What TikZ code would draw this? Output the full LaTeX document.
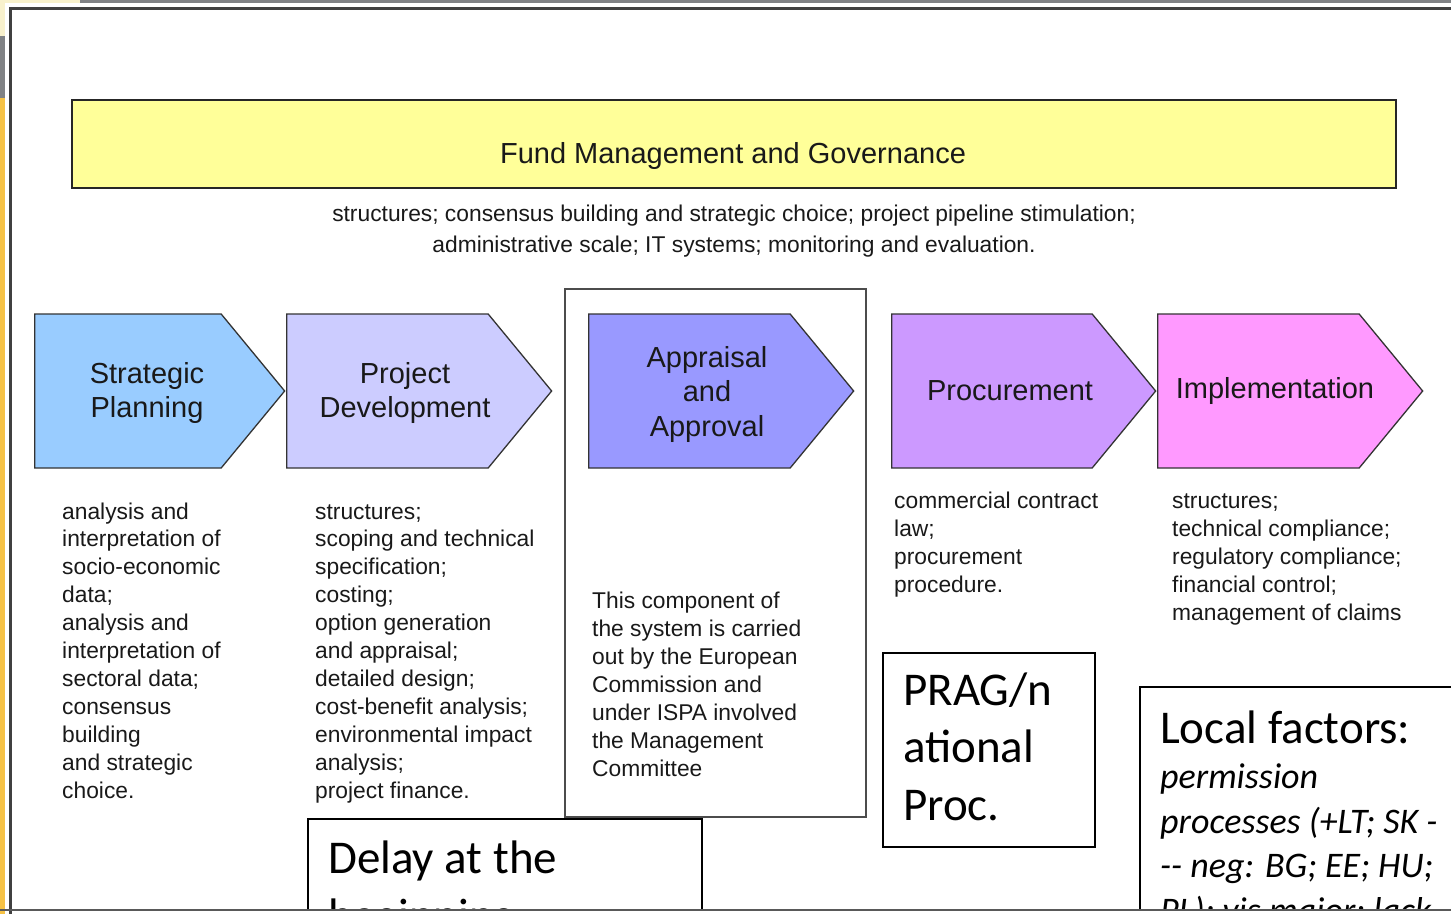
\documentclass[tikz,border=0pt]{standalone}
\usepackage{fontspec}
\setmainfont{Liberation Sans}
\newfontfamily\calibri{Carlito}
\usetikzlibrary{shapes.symbols}
\definecolor{fundyellow}{HTML}{FFFF99}
\definecolor{planblue}{HTML}{99CCFF}
\definecolor{devlilac}{HTML}{CCCCFF}
\definecolor{apprblue}{HTML}{9999FF}
\definecolor{procviolet}{HTML}{CC99FF}
\definecolor{implpink}{HTML}{FF99FF}
\definecolor{slidegray}{HTML}{808285}
\definecolor{slideorange}{HTML}{F6C245}
\definecolor{slidecream}{HTML}{F8F1CC}
\tikzset{
  stage/.style = {signal, signal to=east, signal pointer angle=101,
    draw=black!80, line width=1.3pt, minimum height=154pt,
    minimum width=265pt, inner sep=0pt, anchor=west},% arrow block
  stagetxt/.style = {align=center, inner sep=0pt, text=black!90,
    font=\fontsize{29}{34.5}\selectfont},
  coltxt/.style = {align=left, anchor=base west, inner sep=0pt,
    text=black!90, font=\fontsize{22.8}{27.9}\selectfont},% task lists, placed by last line
  note/.style = {draw=black, line width=1.8pt, fill=white,
    anchor=north west, inner sep=0pt},% callout box
  notetxt/.style = {align=left, anchor=base west, inner sep=0pt,
    font=\calibri\fontsize{47}{57.5}\selectfont}
}

\begin{document}
\begin{tikzpicture}[x={(1pt,0)}, y={(0,-1pt)}]
\useasboundingbox (0,0) rectangle (1451,914);
% window edge
\fill[slidecream] (0,0) rectangle (80,3);
\fill[slidegray] (80,0) rectangle (1451,2.5);
\fill[slidecream] (0,0) rectangle (5,36);
\fill[slidegray] (0,36) rectangle (5,98);
\fill[slideorange] (0,98) rectangle (5,914);

% governance bar
\node[draw=black!85, line width=1.6pt, fill=fundyellow, minimum width=1324pt,
  minimum height=88pt, inner sep=0pt, anchor=north west] (fund) at (71,99) {};
\node[anchor=base, inner sep=0pt, text=black!90, font=\fontsize{29}{34.5}\selectfont]
  (fundtxt) at (733,163) {Fund Management and Governance};
\node[anchor=base, inner sep=0pt, align=center, text=black!90,
  font=\fontsize{22.8}{31}\selectfont] (fundsub) at (734,252)
  {structures; consensus building and strategic choice; project pipeline stimulation;\\
   administrative scale; IT systems; monitoring and evaluation.};

% frame round the approval stage
\node[draw=black!70, line width=1.5pt, minimum width=301pt, minimum height=528pt,
  inner sep=0pt, anchor=north west] (apprframe) at (564,288) {};

% stages
\node[stage, fill=planblue, minimum width=250pt] (plan) at (34,391) {};
\node[stage, fill=devlilac] (dev) at (286,391) {};
\node[stage, fill=apprblue] (appr) at (588,391) {};
\node[stage, fill=procviolet, minimum width=264pt] (proc) at (891,391) {};
\node[stage, fill=implpink] (impl) at (1157,391) {};

\node[stagetxt] (plantxt) at (147,393) {Strategic\\Planning};
\node[stagetxt] (devtxt) at (405,393) {Project\\Development};
\node[stagetxt] (apprtxt) at (707,394) {Appraisal\\and\\Approval};
\node[stagetxt] (proctxt) at (1010,391) {Procurement};
\node[stagetxt] (impltxt) at (1275,391) {Implementation};

% what each stage covers
\node[coltxt] (plancol) at (62,798) {analysis and\\interpretation of\\socio-economic\\data;\\analysis and\\interpretation of\\sectoral data;\\consensus\\building\\and strategic\\choice.};
\node[coltxt] (devcol) at (315,798) {structures;\\scoping and technical\\specification;\\costing;\\option generation\\and appraisal;\\detailed design;\\cost-benefit analysis;\\environmental impact\\analysis;\\project finance.};
\node[coltxt] (apprcol) at (592,776) {This component of\\the system is carried\\out by the European\\Commission and\\under ISPA involved\\the Management\\Committee};
\node[coltxt] (proccol) at (894,592) {commercial contract\\law;\\procurement\\procedure.};
\node[coltxt] (implcol) at (1172,620) {structures;\\technical compliance;\\regulatory compliance;\\financial control;\\management of claims};

% callouts, cut off at the lower edge
\begin{scope}
\clip (0,0) rectangle (1451,909);
\node[note, minimum width=212pt, minimum height=194pt] (prag) at (882,652) {};
\node[notetxt] (pragtxt) at (903,820) {PRAG/n\\ational\\Proc.};
\node[note, minimum width=394pt, minimum height=140pt] (delay) at (307,818) {};
\node[notetxt] (delaytxt) at (328,931) {Delay at the\\beginning};
\node[note, minimum width=340pt, minimum height=260pt] (local) at (1139,686) {};
\node[notetxt] (localtxt) at (1160,743) {Local factors:};
\node[notetxt, font=\calibri\itshape\fontsize{36}{44.5}\selectfont] (localit) at (1160,922)
  {permission\\processes (+LT; SK -\\{-}{-} neg: BG; EE; HU;\\PL); vis major; lack};
\end{scope}

% slide border
\draw[black!75, line width=2.5pt] (10.5,914) -- (10.5,8.5) -- (1451,8.5);
\draw[black!65, line width=2.5pt] (0,910) -- (1451,910);
\end{tikzpicture}
\end{document}
